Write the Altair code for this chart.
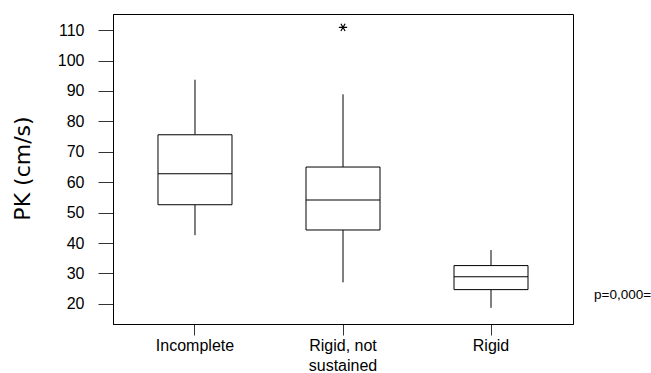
import altair as alt
import pandas as pd

groups = ["Incomplete", "Rigid, not sustained", "Rigid"]
lower = [42.6, 27.1, 18.7]
q1 = [52.6, 44.3, 24.7]
median = [62.8, 54.2, 28.9]
q3 = [75.6, 65.0, 32.6]
upper = [93.7, 88.9, 37.7]

outlier_groups = ["Rigid, not sustained"]
outlier_values = [110.9]

y_ticks = [20, 30, 40, 50, 60, 70, 80, 90, 100, 110]
p_text = "p=0,000="

df = pd.DataFrame({"group": groups, "lower": lower, "q1": q1,
                   "median": median, "q3": q3, "upper": upper})
out_df = pd.DataFrame({"group": outlier_groups, "value": outlier_values})

x_scale = alt.Scale(domain=groups, paddingInner=0, paddingOuter=0.054)
y_scale = alt.Scale(domain=[13.4, 115.3], nice=False, zero=False)

x_enc = alt.X("group:N", scale=x_scale, sort=groups,
              axis=alt.Axis(title=None, labelAngle=0, tickSize=11, labelFontSize=16,
                            labelPadding=2, labelLineHeight=20, labelOverlap=False,
                            labelExpr="datum.label == 'Rigid, not sustained' ? ['Rigid, not', 'sustained'] : datum.label"))
y_axis = alt.Axis(title="PK (cm/s)", values=y_ticks, tickSize=15, labelFontSize=16,
                  labelPadding=14, labelOverlap=False, grid=False,
                  titleFontSize=22, titleFontWeight="normal", titleFont="DejaVu Sans",
                  titleAngle=-90, titleX=-91, titleY=154, titleAlign="center",
                  titleBaseline="middle")


def yq(field):
    return alt.Y(field, type="quantitative", scale=y_scale, axis=y_axis)


base = alt.Chart(df)

whisk_lo = base.mark_rule(color="black", strokeWidth=1).encode(
    x=x_enc, y=yq("lower"), y2="q1:Q")
whisk_hi = base.mark_rule(color="black", strokeWidth=1).encode(
    x=x_enc, y=yq("q3"), y2="upper:Q")
box = base.mark_bar(size=74, fill="white", stroke="black", strokeWidth=1).encode(
    x=x_enc, y=yq("q1"), y2="q3:Q")
med = base.mark_tick(size=74, thickness=1, color="black", opacity=1).encode(
    x=x_enc, y=yq("median"))
outl = alt.Chart(out_df).mark_point(
    shape="M-1,0L1,0M-0.5,-0.87L0.5,0.87M-0.5,0.87L0.5,-0.87",
    size=70, filled=False, stroke="black", strokeWidth=1.2, opacity=1).encode(
    x=x_enc, y=yq("value"))
ptxt = alt.Chart(pd.DataFrame({"t": [p_text]})).mark_text(
    align="left", baseline="middle", fontSize=13.5, color="black", clip=False).encode(
    text="t:N", x=alt.value(481), y=alt.value(281))

chart = alt.layer(whisk_lo, whisk_hi, box, med, outl, ptxt).properties(
    width=460, height=310,
    autosize=alt.AutoSizeParams(type="none"),
    padding={"left": 113, "top": 14, "right": 78, "bottom": 49},
).configure(font="Liberation Sans").configure_view(
    stroke="black", strokeWidth=1
).configure_axis(
    domainColor="black", tickColor="#333", labelColor="black", titleColor="black",
    grid=False, labelFont="Liberation Sans"
)

chart.save("out.html", embed_options={"renderer": "svg", "actions": False})
